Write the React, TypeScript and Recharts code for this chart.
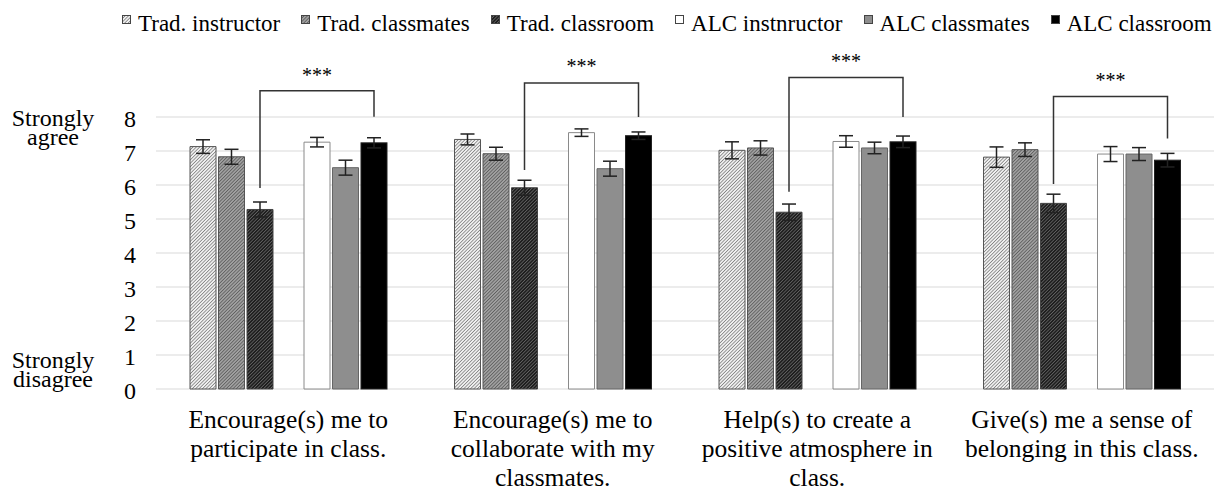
import React from 'react';
import { BarChart, Bar, XAxis, YAxis, CartesianGrid, ErrorBar, Legend } from 'recharts';

const categoryLines = [
  ['Encourage(s) me to', 'participate in class.'],
  ['Encourage(s) me to', 'collaborate with my', 'classmates.'],
  ['Help(s) to create a', 'positive atmosphere in', 'class.'],
  ['Give(s) me a sense of', 'belonging in this class.'],
];

const tradInstr = [7.13, 7.34, 7.02, 6.82];
const tradMates = [6.83, 6.92, 7.09, 7.04];
const tradRoom = [5.28, 5.92, 5.2, 5.46];
const alcInstr = [7.26, 7.54, 7.28, 6.91];
const alcMates = [6.51, 6.48, 7.09, 6.91];
const alcRoom = [7.24, 7.45, 7.27, 6.73];

const tradInstrErr = [0.2, 0.16, 0.25, 0.3];
const tradMatesErr = [0.22, 0.19, 0.21, 0.2];
const tradRoomErr = [0.22, 0.22, 0.24, 0.27];
const alcInstrErr = [0.14, 0.11, 0.17, 0.22];
const alcMatesErr = [0.22, 0.22, 0.17, 0.19];
const alcRoomErr = [0.15, 0.11, 0.17, 0.2];

// significance brackets (trad. classroom vs ALC classroom), in scale units
const bracketTop = [8.77, 9.0, 9.16, 8.6];
const bracketLeftEnd = [5.91, 6.44, 5.8, 6.03];
const bracketRightEnd = [8.01, 8.0, 8.0, 7.37];
const starLevel = [9.29, 9.56, 9.7, 9.15];
const starText = ['***', '***', '***', '***'];

const yTicks = [0, 1, 2, 3, 4, 5, 6, 7, 8];

const legendNames = [
  'Trad. instructor',
  'Trad. classmates',
  'Trad. classroom',
  'ALC instnructor',
  'ALC classmates',
  'ALC classroom',
];

const FONT = '"Liberation Serif", "Times New Roman", serif';
const BAR_SIZE = 26;
const BAR_GAP = 2.5;

const fills = [
  'url(#hatchLight)',
  'url(#hatchMid)',
  'url(#hatchDark)',
  '#ffffff',
  '#8e8e8e',
  '#000000',
];
const strokes = ['#555', '#555', '#444', '#8a8a8a', '#666', '#222'];

const data = categoryLines.map((lines, i) => ({
  category: lines.join(' '),
  tradInstr: tradInstr[i],
  tradMates: tradMates[i],
  tradRoom: tradRoom[i],
  spacer: 0,
  alcInstr: alcInstr[i],
  alcMates: alcMates[i],
  alcRoom: alcRoom[i],
  tradInstrErr: tradInstrErr[i],
  tradMatesErr: tradMatesErr[i],
  tradRoomErr: tradRoomErr[i],
  alcInstrErr: alcInstrErr[i],
  alcMatesErr: alcMatesErr[i],
  alcRoomErr: alcRoomErr[i],
}));

function Patterns() {
  return (
    <svg width={0} height={0} style={{ position: 'absolute' }}>
      <defs>
        <pattern id="hatchLight" patternUnits="userSpaceOnUse" width={2.4} height={2.4} patternTransform="rotate(45)">
          <rect width={2.4} height={2.4} fill="#f0f0f0" />
          <line x1={0} y1={0} x2={0} y2={2.4} stroke="#222" strokeWidth={0.85} />
        </pattern>
        <pattern id="hatchMid" patternUnits="userSpaceOnUse" width={2.4} height={2.4} patternTransform="rotate(45)">
          <rect width={2.4} height={2.4} fill="#a0a0a0" />
          <line x1={0} y1={0} x2={0} y2={2.4} stroke="#2a2a2a" strokeWidth={0.9} />
        </pattern>
        <pattern id="hatchDark" patternUnits="userSpaceOnUse" width={2.4} height={2.4} patternTransform="rotate(45)">
          <rect width={2.4} height={2.4} fill="#1e1e1e" />
          <line x1={0} y1={0} x2={0} y2={2.4} stroke="#d8d8d8" strokeWidth={0.6} />
        </pattern>
      </defs>
    </svg>
  );
}

function LegendContent() {
  return (
    <div
      style={{
        display: 'flex',
        flexWrap: 'nowrap',
        whiteSpace: 'nowrap',
        width: 1214,
        paddingLeft: 122,
        boxSizing: 'border-box',
        fontFamily: FONT,
        fontSize: 23,
        lineHeight: '24px',
        color: '#000',
      }}
    >
      {legendNames.map((name, i) => (
        <div key={name} style={{ display: 'flex', alignItems: 'flex-start', flexShrink: 0, marginRight: 21 }}>
          <svg width={9} height={9} style={{ marginTop: 3, marginRight: 7, flexShrink: 0 }}>
            <rect x={0.5} y={0.5} width={8} height={8} fill={fills[i]} stroke="#444" strokeWidth={1} />
          </svg>
          <span>{name}</span>
        </div>
      ))}
    </div>
  );
}

function YTick(props: any) {
  const { x, y, payload } = props;
  return (
    <g fontFamily={FONT} fill="#000">
      <text x={x} y={y} dy={10} textAnchor="end" fontSize={24}>
        {payload.value}
      </text>
      {payload.value === 8 && (
        <text x={x - 83} y={y} textAnchor="middle" fontSize={24}>
          <tspan x={x - 83} dy={9}>Strongly</tspan>
          <tspan x={x - 83} dy={19}>agree</tspan>
        </text>
      )}
      {payload.value === 0 && (
        <text x={x - 83} y={y} textAnchor="middle" fontSize={24}>
          <tspan x={x - 83} dy={-21}>Strongly</tspan>
          <tspan x={x - 83} dy={19}>disagree</tspan>
        </text>
      )}
    </g>
  );
}

function XTick(props: any) {
  const { x, y, index } = props;
  const lines = categoryLines[index] || [];
  return (
    <text x={x} y={y} textAnchor="middle" fontFamily={FONT} fontSize={25.5} fill="#000">
      {lines.map((line, i) => (
        <tspan key={i} x={x} dy={i === 0 ? 39 : 29}>
          {line}
        </tspan>
      ))}
    </text>
  );
}

// last bar of each group also carries the significance bracket
function BracketBar(props: any) {
  const { x, y, width, height, index } = props;
  const base = y + height;
  const perUnit = height / alcRoom[index];
  const toY = (v: number) => base - v * perUnit;
  const rightX = x + width / 2;
  const leftX = rightX - 4 * (width + BAR_GAP);
  return (
    <g>
      <rect x={x} y={y} width={width} height={height} fill={fills[5]} stroke={strokes[5]} />
      <path
        d={`M${leftX},${toY(bracketLeftEnd[index])} V${toY(bracketTop[index])} H${rightX} V${toY(bracketRightEnd[index])}`}
        fill="none"
        stroke="#333"
        strokeWidth={1.5}
      />
      <text x={(leftX + rightX) / 2} y={toY(starLevel[index])} dy={9} textAnchor="middle" fontFamily={FONT} fontSize={20} fill="#000">
        {starText[index]}
      </text>
    </g>
  );
}

const errProps = { width: 7, stroke: '#222', strokeWidth: 1.5 };

export default function App() {
  return (
    <div style={{ position: 'absolute', left: 0, top: 0 }}>
      <Patterns />
      <BarChart
        width={1214}
        height={493}
        data={data}
        margin={{ top: 117, right: 0, left: 0, bottom: 0 }}
        barSize={BAR_SIZE}
        barGap={BAR_GAP}
      >
        <CartesianGrid vertical={false} stroke="#e6e6e6" strokeWidth={1.5} />
        <XAxis dataKey="category" axisLine={false} tickLine={false} tickSize={0} tickMargin={0} height={104} interval={0} tick={<XTick />} />
        <YAxis domain={[0, 8]} ticks={yTicks} width={156} axisLine={false} tickLine={false} tickSize={0} tickMargin={20} tick={<YTick />} />
        <Legend
          layout="vertical"
          align="center"
          verticalAlign="middle"
          wrapperStyle={{ top: 12, left: 0, width: 1214 }}
          content={<LegendContent />}
        />
        <Bar dataKey="tradInstr" fill={fills[0]} stroke={strokes[0]} isAnimationActive={false}>
          <ErrorBar dataKey="tradInstrErr" {...errProps} />
        </Bar>
        <Bar dataKey="tradMates" fill={fills[1]} stroke={strokes[1]} isAnimationActive={false}>
          <ErrorBar dataKey="tradMatesErr" {...errProps} />
        </Bar>
        <Bar dataKey="tradRoom" fill={fills[2]} stroke={strokes[2]} isAnimationActive={false}>
          <ErrorBar dataKey="tradRoomErr" {...errProps} />
        </Bar>
        <Bar dataKey="spacer" fill="none" legendType="none" isAnimationActive={false} />
        <Bar dataKey="alcInstr" fill={fills[3]} stroke={strokes[3]} isAnimationActive={false}>
          <ErrorBar dataKey="alcInstrErr" {...errProps} />
        </Bar>
        <Bar dataKey="alcMates" fill={fills[4]} stroke={strokes[4]} isAnimationActive={false}>
          <ErrorBar dataKey="alcMatesErr" {...errProps} />
        </Bar>
        <Bar dataKey="alcRoom" fill={fills[5]} stroke={strokes[5]} shape={<BracketBar />} isAnimationActive={false}>
          <ErrorBar dataKey="alcRoomErr" {...errProps} />
        </Bar>
      </BarChart>
    </div>
  );
}
